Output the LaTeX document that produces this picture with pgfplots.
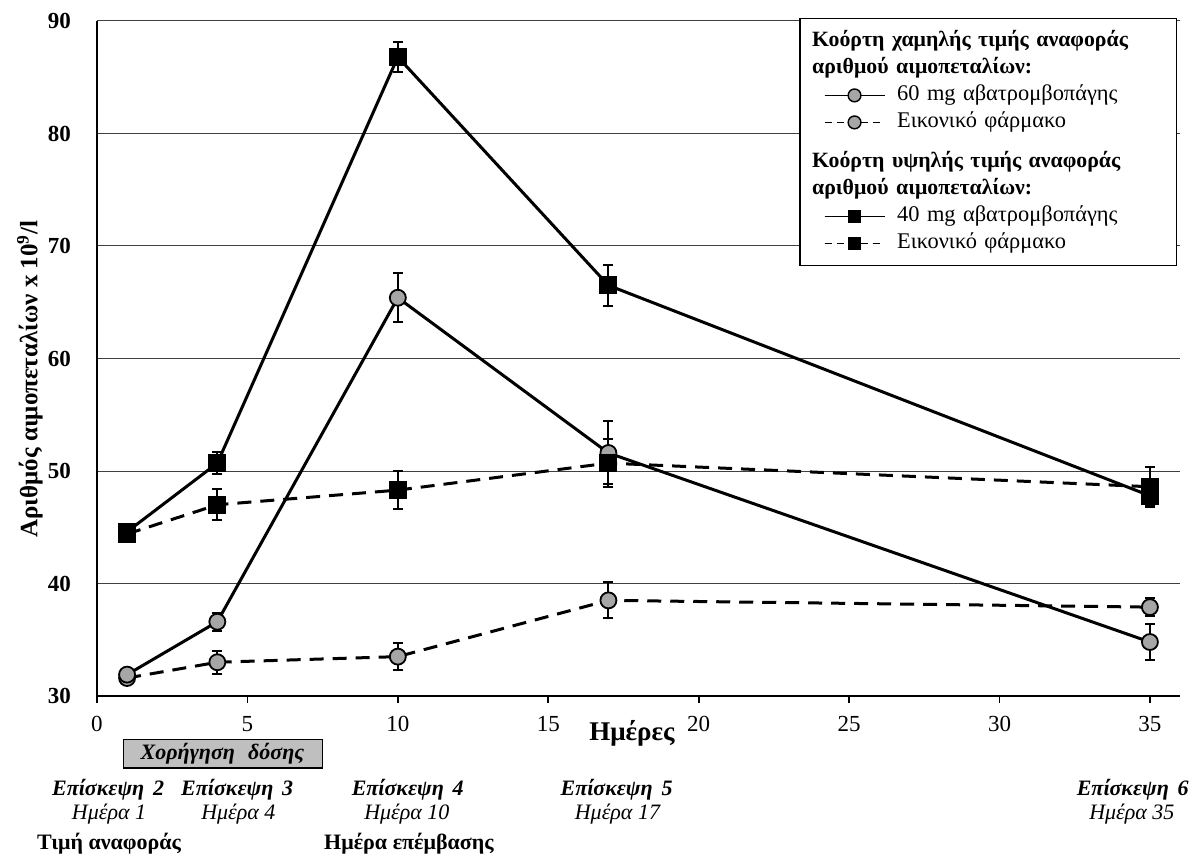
\documentclass[border=0pt]{standalone}
\usepackage{fontspec}
\setmainfont{Liberation Serif}
\usepackage{pgfplots}
\pgfplotsset{compat=1.18}
\definecolor{mfill}{HTML}{A6A6A6}
\definecolor{boxfill}{HTML}{BFBFBF}
\newcommand{\LS}{\rule[-4pt]{0pt}{13.5pt}}
\newcommand{\LT}{\rule[-4pt]{0pt}{20pt}}
\newcommand{\LH}{\fontsize{10.9}{13}\selectfont\bfseries}
\begin{document}
\begin{tikzpicture}
\useasboundingbox (-48.5pt,-80.5pt) rectangle (546pt,348pt);
\begin{axis}[
  at={(0,0)}, anchor=south west,
  scale only axis, width=541.5pt, height=337.5pt,
  xmin=0, xmax=36, ymin=30, ymax=90,
  axis lines*=left,
  xtick={0,5,...,35}, ytick={30,40,...,90},
  ymajorgrids, grid style={line width=0.5pt, black!75},
  tick align=outside, major tick length=3.5pt,
  xtick style={line width=0.9pt, black}, ytick style={draw=none},
  axis line style={line width=0.9pt},
  clip=false,
  /pgf/number format/assume math mode=true,
  xticklabel style={font=\fontsize{11.5}{13}\selectfont, yshift=-3pt},
  yticklabel style={font=\bfseries\fontsize{11.5}{13}\selectfont, xshift=-6pt},
  xlabel={Ημέρες},
  xlabel style={font=\bfseries\fontsize{13.5}{15}\selectfont, at={(axis description cs:0.494,-0.0548)}, anchor=center},
  ylabel={Αριθμός αιμοπεταλίων x 10\textsuperscript{9}/l},
  ylabel style={font=\bfseries\fontsize{12.5}{14}\selectfont, at={(axis description cs:-0.0619,0.4696)}, anchor=center},
  legend style={at={(0.997,1.004)}, anchor=north east, draw=black, line width=0.6pt,
    inner xsep=12pt, inner ysep=4.5pt, column sep=6pt, row sep=0pt,
    font=\fontsize{11.2}{13}\selectfont,
    nodes={inner xsep=0pt, inner ysep=0pt, text depth={}, text width=127.5pt, align=left}},
  legend cell align=left,
  legend image code/.code={\draw[mark repeat=2,mark phase=2,#1] plot coordinates {(0pt,0pt) (15pt,0pt) (30pt,0pt)};},
]
% Placebo, low cohort (dashed circles)
\addplot[forget plot, line width=1.5pt, dash pattern=on 7pt off 4.5pt, mark=*, mark size=4pt,
  mark options={solid, fill=mfill, draw=black, line width=0.9pt},
  error bars/.cd, y dir=both, y explicit, error bar style={line width=1pt, solid},
  error mark options={rotate=90, mark size=2.5pt, line width=1pt, solid}]
coordinates {(1,31.6) +- (0,0) (4,33.0) +- (0,1.0) (10,33.5) +- (0,1.2) (17,38.5) +- (0,1.6) (35,37.9) +- (0,0.8)};
% 60 mg, low cohort (solid circles)
\addplot[forget plot, line width=1.5pt, mark=*, mark size=4pt,
  mark options={solid, fill=mfill, draw=black, line width=0.9pt},
  error bars/.cd, y dir=both, y explicit, error bar style={line width=1pt, solid},
  error mark options={rotate=90, mark size=2.5pt, line width=1pt, solid}]
coordinates {(1,31.9) +- (0,0) (4,36.6) +- (0,0.8) (10,65.4) +- (0,2.2) (17,51.6) +- (0,2.8) (35,34.8) +- (0,1.6)};
% 40 mg, high cohort (solid squares)
\addplot[forget plot, line width=1.5pt, mark=square*, mark size=4.25pt,
  mark options={solid, fill=black, draw=black, line width=0.5pt},
  error bars/.cd, y dir=both, y explicit, error bar style={line width=1pt, solid},
  error mark options={rotate=90, mark size=2.5pt, line width=1pt, solid}]
coordinates {(1,44.6) +- (0,0) (4,50.7) +- (0,1.0) (10,86.8) +- (0,1.3) (17,66.5) +- (0,1.8) (35,47.8) +- (0,0.9)};
% Placebo, high cohort (dashed squares)
\addplot[forget plot, line width=1.5pt, dash pattern=on 7pt off 4.5pt, mark=square*, mark size=4.25pt,
  mark options={solid, fill=black, draw=black, line width=0.5pt},
  error bars/.cd, y dir=both, y explicit, error bar style={line width=1pt, solid},
  error mark options={rotate=90, mark size=2.5pt, line width=1pt, solid}]
coordinates {(1,44.4) +- (0,0) (4,47.0) +- (0,1.4) (10,48.3) +- (0,1.7) (17,50.7) +- (0,2.1) (35,48.6) +- (0,1.8)};

\addlegendimage{empty legend}\addlegendentry{\LH\hspace*{-42.5pt}Κοόρτη χαμηλής τιμής αναφοράς\LS}
\addlegendimage{empty legend}\addlegendentry{\LH\hspace*{-42.5pt}αριθμού αιμοπεταλίων:\LS}
\addlegendimage{line width=0.6pt, mark=*, mark size=3.2pt, mark options={solid, fill=mfill, draw=black, line width=0.7pt}}
\addlegendentry{60 mg αβατρομβοπάγης\LS}
\addlegendimage{line width=0.6pt, dash pattern=on 3.5pt off 2.5pt, mark=*, mark size=3.2pt, mark options={solid, fill=mfill, draw=black, line width=0.7pt}}
\addlegendentry{Εικονικό φάρμακο\LS}
\addlegendimage{empty legend}\addlegendentry{\LH\hspace*{-42.5pt}Κοόρτη υψηλής τιμής αναφοράς\LT}
\addlegendimage{empty legend}\addlegendentry{\LH\hspace*{-42.5pt}αριθμού αιμοπεταλίων:\LS}
\addlegendimage{line width=0.6pt, mark=square*, mark size=2.8pt, mark options={solid, fill=black, draw=black}}
\addlegendentry{40 mg αβατρομβοπάγης\LS}
\addlegendimage{line width=0.6pt, dash pattern=on 3.5pt off 2.5pt, mark=square*, mark size=2.8pt, mark options={solid, fill=black, draw=black}}
\addlegendentry{Εικονικό φάρμακο\LS}

% annotations below the axis
\draw[fill=boxfill, line width=0.6pt] (axis cs:0.87,26.1) rectangle (axis cs:7.5,23.6);
\node[font=\bfseries\itshape\fontsize{11}{13}\selectfont] at (axis cs:4.17,24.85) {Χορήγηση\hspace{0.6em}δόσης};
\node[font=\bfseries\itshape\fontsize{11}{13}\selectfont] at (axis cs:0.37,21.64) {Επίσκεψη\hspace{0.4em}2};
\node[font=\itshape\fontsize{11}{13}\selectfont] at (axis cs:0.4,19.5) {Ημέρα 1};
\node[font=\bfseries\itshape\fontsize{11}{13}\selectfont] at (axis cs:4.66,21.64) {Επίσκεψη\hspace{0.4em}3};
\node[font=\itshape\fontsize{11}{13}\selectfont] at (axis cs:4.7,19.5) {Ημέρα 4};
\node[font=\bfseries\itshape\fontsize{11}{13}\selectfont] at (axis cs:10.33,21.64) {Επίσκεψη\hspace{0.4em}4};
\node[font=\itshape\fontsize{11}{13}\selectfont] at (axis cs:10.3,19.5) {Ημέρα 10};
\node[font=\bfseries\itshape\fontsize{11}{13}\selectfont] at (axis cs:17.27,21.64) {Επίσκεψη\hspace{0.4em}5};
\node[font=\itshape\fontsize{11}{13}\selectfont] at (axis cs:17.3,19.5) {Ημέρα 17};
\node[font=\bfseries\itshape\fontsize{11}{13}\selectfont] at (axis cs:34.43,21.64) {Επίσκεψη\hspace{0.4em}6};
\node[font=\itshape\fontsize{11}{13}\selectfont] at (axis cs:34.4,19.5) {Ημέρα 35};
\node[font=\bfseries\fontsize{11}{13}\selectfont] at (axis cs:0.4,16.9) {Τιμή αναφοράς};
\node[font=\bfseries\fontsize{11}{13}\selectfont] at (axis cs:10.37,16.9) {Ημέρα επέμβασης};
\end{axis}
\end{tikzpicture}
\end{document}
